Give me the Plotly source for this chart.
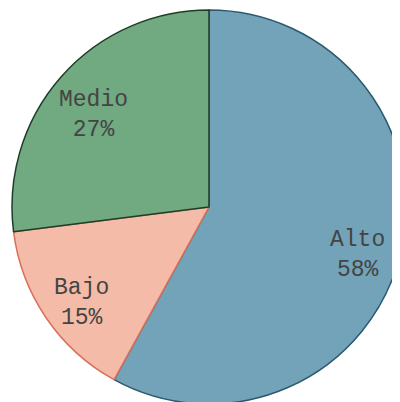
import math
import plotly.graph_objects as go

labels = ["Alto", "Bajo", "Medio"]
values = [58, 15, 27]
fill_colors = ["#72a3b8", "#f5bba9", "#71a981"]
edge_colors = ["#2b5a6e", "#d9705a", "#1e3d28"]

# page body has an 8px margin; figure is a bit larger than the window so the pie is clipped like the reference
W, H = 410, 410
cx, cy, r = 201, 199, 197
label_frac = 0.78
label_drop = 10

fig = go.Figure(go.Pie(
    labels=labels,
    values=values,
    sort=False,
    direction="clockwise",
    rotation=0,
    marker=dict(colors=fill_colors, line=dict(color=edge_colors, width=1.5)),
    textinfo="none",
    hoverinfo="label+percent",
    showlegend=False,
    domain=dict(x=[(cx - r) / W, (cx + r) / W], y=[(H - cy - r) / H, (H - cy + r) / H]),
))

total = sum(values)
start = 0.0
for lab, v in zip(labels, values):
    mid = start + v / total * 360 / 2
    start += v / total * 360
    a = math.radians(mid)
    px = cx + label_frac * r * math.sin(a)
    py = cy - label_frac * r * math.cos(a) + label_drop
    fig.add_annotation(
        x=px / W, y=(H - py) / H, xref="paper", yref="paper",
        text=f"{lab}<br>{round(v / total * 100)}%",
        showarrow=False,
        font=dict(family="Liberation Mono, Courier New, monospace", size=23, color="#444444"),
        xanchor="center", yanchor="middle", align="center",
    )

fig.update_layout(
    width=W, height=H,
    margin=dict(l=0, r=0, t=0, b=0),
    paper_bgcolor="white",
    plot_bgcolor="white",
)
fig.write_html("out.html")
